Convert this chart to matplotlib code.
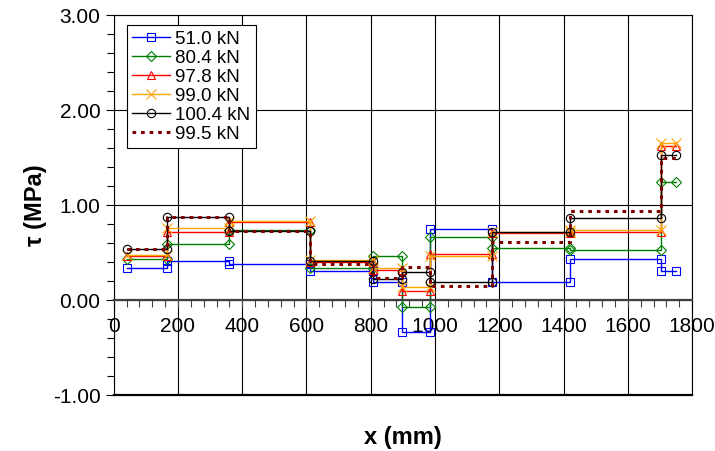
import numpy as np
import matplotlib
matplotlib.use('Agg')
import matplotlib.pyplot as plt
from matplotlib.ticker import MultipleLocator, FormatStrFormatter

plt.rcParams['font.family'] = ['Liberation Sans', 'DejaVu Sans']

# segment boundaries along the beam (mm)
x_breaks = [40, 165, 360, 610, 808, 896, 984, 1176, 1420, 1703, 1750]

# shear stress per segment (MPa)
tau_510 = [0.33, 0.405, 0.37, 0.30, 0.19, -0.34, 0.74, 0.18, 0.43, 0.30]
tau_804 = [0.43, 0.59, 0.73, 0.33, 0.455, -0.08, 0.655, 0.54, 0.52, 1.235]
tau_978 = [0.455, 0.71, 0.82, 0.40, 0.31, 0.09, 0.48, 0.70, 0.71, 1.62]
tau_990 = [0.47, 0.75, 0.83, 0.42, 0.33, 0.13, 0.455, 0.71, 0.73, 1.65]
tau_1004 = [0.53, 0.866, 0.72, 0.41, 0.22, 0.29, 0.18, 0.71, 0.855, 1.525]
tau_995 = [0.53, 0.866, 0.72, 0.38, 0.23, 0.34, 0.14, 0.61, 0.935, 1.49]

labels = ['51.0 kN', '80.4 kN', '97.8 kN', '99.0 kN', '100.4 kN', '99.5 kN']


def steps(vals):
    xs = np.repeat(x_breaks, 2)[1:-1]
    ys = np.repeat(vals, 2)
    return xs, ys


fig = plt.figure(figsize=(7.15, 4.52), dpi=100)
ax = fig.add_axes([0.159, 0.125, 0.809, 0.840])

styles = [
    (tau_510, dict(color='#0000FF', marker='s')),
    (tau_804, dict(color='#008000', marker='D', markersize=5)),
    (tau_978, dict(color='#FF0000', marker='^')),
    (tau_990, dict(color='#FFA500', marker='x', markersize=7)),
    (tau_1004, dict(color='black', marker='o')),
]
for (vals, st), lab in zip(styles, labels):
    xs, ys = steps(vals)
    kw = dict(markersize=6, markerfacecolor='none', markeredgewidth=0.8, lw=1.0)
    kw.update(st)
    ax.plot(xs, ys, label=lab, **kw)

xs, ys = steps(tau_995)
ax.plot(xs, ys, color='#800000', lw=2.2, linestyle=(0, (1.2, 1.6)), label=labels[5])

ax.set_xlim(0, 1800)
ax.set_ylim(-1, 3)

ax.xaxis.set_major_locator(MultipleLocator(200))
ax.xaxis.set_minor_locator(MultipleLocator(40))
ax.yaxis.set_major_locator(MultipleLocator(1))
ax.yaxis.set_minor_locator(MultipleLocator(0.2))
ax.yaxis.set_major_formatter(FormatStrFormatter('%.2f'))

ax.grid(True, which='major', color='black', lw=0.8)
ax.set_axisbelow(True)

# x axis crosses at tau = 0
ax.spines['bottom'].set_position(('data', 0))
ax.spines['bottom'].set_color('#404040')
ax.spines['bottom'].set_linewidth(1.6)
for s in ['left', 'right', 'top']:
    ax.spines[s].set_linewidth(0.8)
ax.axhline(-1, color='black', lw=1.6, clip_on=False)

ax.tick_params(axis='x', which='major', direction='out', length=6, width=0.8,
               labelsize=15, pad=6, color='#404040')
ax.tick_params(axis='x', which='minor', direction='out', length=5, width=0.8, color='#404040')
ax.tick_params(axis='y', which='major', direction='out', length=6, width=0.8, labelsize=15)
ax.tick_params(axis='y', which='minor', direction='out', length=5, width=0.8)

ax.set_ylabel('τ (MPa)', fontsize=17, fontweight='bold', va='center')
ax.yaxis.set_label_coords(-0.135, 0.5)
ax.set_xlabel('x (mm)', fontsize=17, fontweight='bold', va='center')
ax.xaxis.set_label_coords(0.5, -0.11)

leg = ax.legend(loc='upper left', bbox_to_anchor=(0.0225, 0.974), borderaxespad=0,
                fontsize=13.5, numpoints=1, handlelength=2.0, handletextpad=0.3,
                labelspacing=0.1, borderpad=0.3, fancybox=False, framealpha=1,
                edgecolor='black')
leg.get_frame().set_linewidth(0.8)

fig.savefig('out.png', dpi=100)
